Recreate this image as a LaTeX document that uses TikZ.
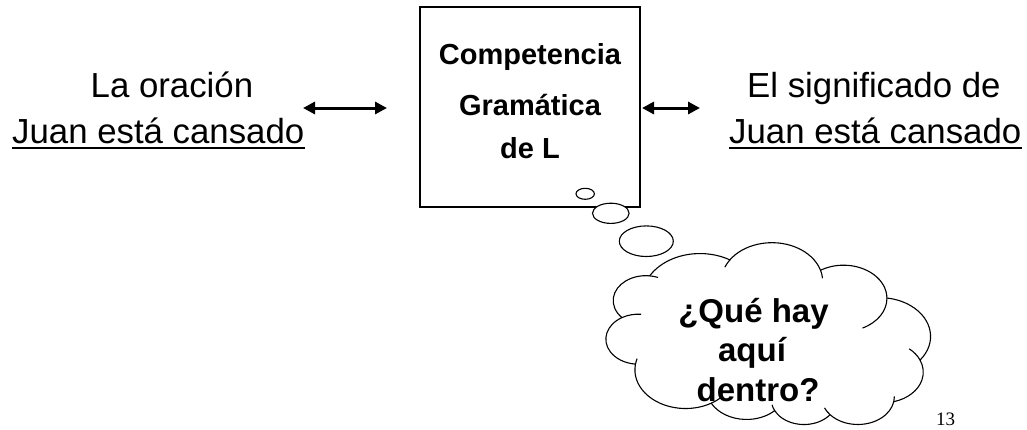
\documentclass[tikz,border=0pt]{standalone}
\usepackage{fontspec}
\setmainfont{Liberation Sans}
\newfontfamily\pagefont{Liberation Serif}
\usetikzlibrary{arrows.meta}
\begin{document}
\begin{tikzpicture}[x=1pt,y=1pt,yscale=-1,
  lbl/.style={inner sep=0pt, anchor=base west, font=\fontsize{34.8}{40}\selectfont},
  boxtxt/.style={inner sep=0pt, anchor=base, font=\fontsize{29}{34}\selectfont\bfseries},
  cloudtxt/.style={inner sep=0pt, anchor=base, font=\fontsize{33}{38}\selectfont\bfseries},
  dbl/.style={line width=3pt, {Triangle[length=12pt,width=12pt]}-{Triangle[length=12pt,width=12pt]}},
  uline/.style={line width=2pt},
  outline/.style={line width=1.1pt, draw=black, fill=white},
  inner/.style={line width=1.1pt, draw=black}]
\useasboundingbox (0,0) rectangle (1027,429);

% left texts
\node[lbl] (lo) at (90.5,97) {La oración};
\node[lbl] (j1) at (12,143) {Juan está cansado};
% right texts
\node[lbl] (sig) at (747,97) {El significado de};
\node[lbl] (j2) at (729,143) {Juan está cansado};
\coordinate (ul) at (0,148);
\draw[uline] (j1.base west |- ul) -- (j1.base east |- ul);
\draw[uline] (j2.base west |- ul) -- (j2.base east |- ul);

% box
\node[draw, line width=1.1pt, minimum width=220pt, minimum height=200pt, inner sep=0pt] (box) at (530,107) {};
\node[boxtxt] (b1) at (530,64) {Competencia};
\node[boxtxt] (b2) at (530,115) {Gramática};
\node[boxtxt] (b3) at (530,158) {de L};

% arrows
\coordinate (la1) at (303,108);
\coordinate (la2) at (387,108);
\coordinate (ra1) at (642,108);
\coordinate (ra2) at (700,108);
\draw[dbl] (la1) -- (la2);
\draw[dbl] (ra1) -- (ra2);

% thought bubbles
\draw[outline] (585.2,193.8) ellipse [x radius=9.2, y radius=5.5];
\draw[outline] (610.8,213.3) ellipse [x radius=18.3, y radius=10.1];
\draw[outline] (646.3,241.2) ellipse [x radius=27, y radius=15.3];

% cloud
\begin{scope}[shift={(606.1,425.1)}, xscale=7.507, yscale=-4.208]
\draw[outline] (3.9,14.37) coordinate (p0)
  arc[x radius=6.753, y radius=9.19, start angle=172.255, delta angle=128.115] coordinate (p1)
  arc[x radius=5.333, y radius=7.267, start angle=-152.05, delta angle=106.60] coordinate (p2)
  arc[x radius=4.365, y radius=5.945, start angle=-153.50, delta angle=116.17] coordinate (p3)
  arc[x radius=4.857, y radius=6.595, start angle=-139.72, delta angle=129.51] coordinate (p4)
  arc[x radius=5.333, y radius=7.273, start angle=-74.77, delta angle=97.98] coordinate (p5)
  arc[x radius=6.775, y radius=9.22, start angle=-37.52, delta angle=119.38] coordinate (p6)
  arc[x radius=5.785, y radius=7.867, start angle=0.46, delta angle=121.51] coordinate (p7)
  arc[x radius=6.752, y radius=9.215, start angle=16.84, delta angle=129.38] coordinate (p8)
  arc[x radius=7.72, y radius=10.543, start angle=58.98, delta angle=91.20] coordinate (p9)
  arc[x radius=4.36, y radius=5.918, start angle=83.31, delta angle=139.78] coordinate (p10)
  arc[x radius=4.345, y radius=5.945, start angle=120.36, delta angle=143.75] -- cycle;
\draw[inner] (p10) arc[x radius=4.345, y radius=5.945, start angle=120.36, delta angle=-34.82];
\draw[inner] (p9) arc[x radius=4.36, y radius=5.918, start angle=83.31, delta angle=-15.08];
\draw[inner] (p8) arc[x radius=6.752, y radius=9.215, start angle=146.22, delta angle=12.25];
\draw[inner] (p7) arc[x radius=6.752, y radius=9.215, start angle=16.84, delta angle=-12.10];
\draw[inner] (p6) arc[x radius=5.785, y radius=7.867, start angle=0.46, delta angle=-64.49];
\draw[inner] (p5) arc[x radius=5.333, y radius=7.273, start angle=23.21, delta angle=26.44];
\draw[inner] (p4) arc[x radius=4.857, y radius=6.595, start angle=-10.21, delta angle=11.04];
\draw[inner] (p3) arc[x radius=4.857, y radius=6.595, start angle=-139.72, delta angle=-16.58];
\draw[inner] (p2) arc[x radius=4.365, y radius=5.945, start angle=-153.50, delta angle=-14.23];
\draw[inner] (p1) arc[x radius=6.753, y radius=9.19, start angle=-59.63, delta angle=13.89];
\draw[inner] (p0) arc[x radius=6.753, y radius=9.19, start angle=172.255, delta angle=-9.05];
\end{scope}

% cloud text
\node[cloudtxt] (q1) at (753.5,322) {¿Qué hay};
\node[cloudtxt] (q2) at (752,361) {aquí};
\node[cloudtxt] (q3) at (758,401) {dentro?};

% page number
\node[inner sep=0pt, anchor=base west, font=\pagefont\fontsize{19}{22}\selectfont] (pg) at (936,425) {13};
\end{tikzpicture}
\end{document}
